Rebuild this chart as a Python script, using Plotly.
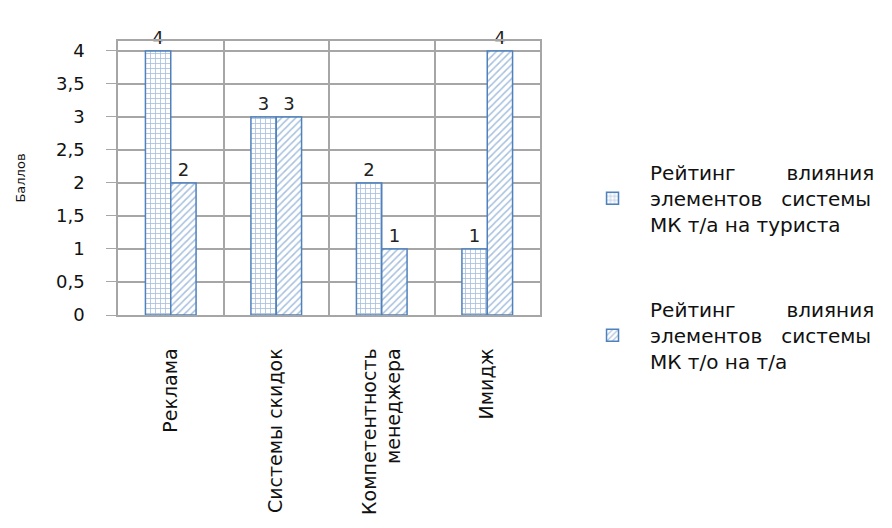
import plotly.graph_objects as go

categories = ["Реклама", "Системы скидок", "Компетентность<br>менеджера", "Имидж"]
sp1 = "\u00a0" * 8
sp2 = "\u00a0" * 3
series1_name = f"Рейтинг{sp1}влияния<br>элементов{sp2}системы<br>МК т/а на туриста"
series2_name = f"Рейтинг{sp1}влияния<br>элементов{sp2}системы<br>МК т/о на т/а"
series1 = [4, 3, 2, 1]
series2 = [2, 3, 1, 4]
y_ticks = [0, 0.5, 1, 1.5, 2, 2.5, 3, 3.5, 4]
y_ticktext = ["0", "0,5", "1", "1,5", "2", "2,5", "3", "3,5", "4"]

blue = "#4F81BD"
grey = "#a6a6a6"
fig = go.Figure()
fig.add_trace(go.Bar(
    x=categories, y=series1, name=series1_name, legendgroup="a",
    text=series1, textposition="outside", cliponaxis=False,
    textfont=dict(size=18, color="#222", family="DejaVu Sans"),
    marker=dict(color="white", line=dict(color=blue, width=1.5),
                pattern=dict(shape="+", fgcolor=blue, bgcolor="white", size=5, solidity=0.3)),
))
fig.add_trace(go.Bar(
    x=categories, y=series2, name=series2_name, legendgroup="b",
    text=series2, textposition="outside", cliponaxis=False,
    textfont=dict(size=18, color="#222", family="DejaVu Sans"),
    marker=dict(color="white", line=dict(color=blue, width=1.5),
                pattern=dict(shape="/", fgcolor=blue, bgcolor="white", size=5, solidity=0.3)),
))

fig.update_layout(
    width=892, height=528,
    margin=dict(l=118, r=352, t=41, b=213),
    paper_bgcolor="white", plot_bgcolor="white",
    font=dict(family="DejaVu Sans, sans-serif", color="#111"),
    barmode="group", bargap=0.52, bargroupgap=0.0,
    legend=dict(x=1.083, y=0.592, xanchor="left", yanchor="top",
                font=dict(size=20), tracegroupgap=56, itemwidth=65),
    xaxis=dict(type="category", tickson="boundaries", showgrid=True, gridcolor=grey,
               gridwidth=1.5, tickangle=-90, tickfont=dict(size=19), ticklabelstandoff=24,
               showline=True, linecolor=grey, linewidth=1.5, ticks="", mirror=True),
    yaxis=dict(range=[0, 4.15], tickvals=y_ticks, ticktext=y_ticktext,
               showgrid=True, gridcolor=grey, gridwidth=1.5,
               tickfont=dict(size=18), ticklabelstandoff=18,
               showline=True, linecolor=grey, linewidth=1.5, ticks="outside", ticklen=10,
               tickcolor=grey, zeroline=False, mirror=True,
               title=dict(text="Баллов", font=dict(size=13), standoff=27)),
)
fig.write_html("out.html")
